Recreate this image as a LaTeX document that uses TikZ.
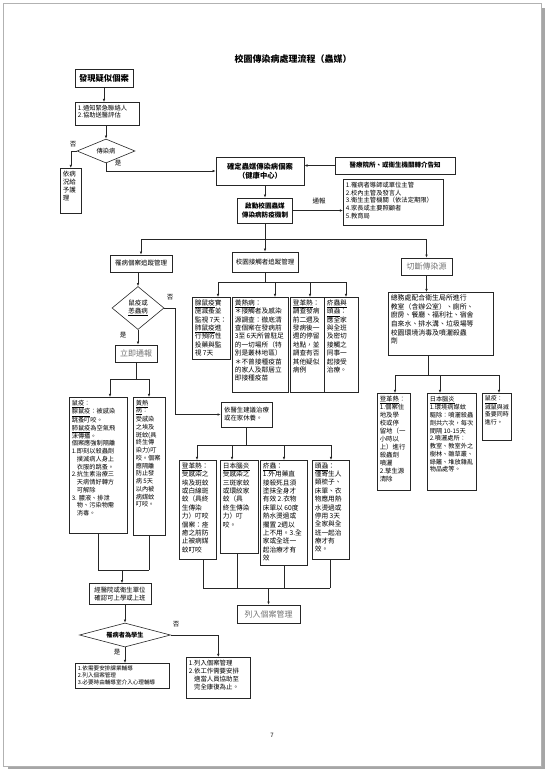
\documentclass[tikz,border=0pt]{standalone}
\usepackage{fontspec}
\setmainfont{Noto Sans CJK TC}
\usetikzlibrary{shapes.geometric,arrows.meta}
\newcommand\fs[1]{\fontsize{#1}{\dimexpr#1pt*5/4\relax}\selectfont}
\newcommand\tb[7]{\node[tbox, anchor=north west] (#1) at (#2,#3) {\parbox[t][\dimexpr#5pt-5pt\relax][t]{\dimexpr#4pt-5pt\relax}{\raggedright\fs{#6}#7}};}
\tikzset{
 bx/.style={draw=black!85, line width=0.6pt, fill=white, inner sep=2pt, align=center},
 tbox/.style={draw=black!85, line width=0.6pt, fill=white, inner sep=2.5pt},
 ln/.style={draw=black!85, line width=0.6pt},
 arr/.style={ln, -{Latex[length=3.2pt,width=2.6pt]}},
 dm/.style={diamond, draw=black!85, line width=0.6pt, fill=white, inner sep=0pt, align=center},
 lbl/.style={font=\fs{6.5}},
 soft/.style={text=black!55, font=\fs{8}},
}
\begin{document}
\begin{tikzpicture}[x=1pt,y=-1pt]
\useasboundingbox (0,0) rectangle (547,772);
\fill[white] (0,0) rectangle (547,772);
% page frame
\fill[black!35] (541,8) rectangle (545,769);
\fill[black!35] (8,766) rectangle (545,769);
\draw[black!30, line width=0.5pt] (3,3) rectangle (541,766);

\node[font=\bfseries\fs{9}] (title) at (293,59) {校園傳染病處理流程（蟲媒）};

% top-left column
\node[bx, minimum width=58, minimum height=18, font=\bfseries\fs{8.3}] (find) at (104,78) {發現疑似個案};
\tb{notify}{75}{102}{64}{23}{6.3}{1.通知緊急聯絡人\\2.協助送醫評估}
\node[dm, minimum width=58, minimum height=24, aspect=2.4, font=\fs{6.3}] (d1) at (106,151) {傳染病};
\tb{care}{60}{168}{21}{45}{6.5}{依病\\況給\\予護\\理}

\node[bx, minimum width=88, minimum height=28, font=\bfseries\fs{7.3}] (confirm) at (260,171) {確定蟲媒傳染病個案\\（健康中心）};
\node[bx, minimum width=120, minimum height=17, font=\bfseries\fs{6.5}] (med) at (395,165.5) {醫療院所、或衛生機關轉介告知};
\node[bx, minimum width=55, minimum height=25, font=\bfseries\fs{6.6}] (start) at (265,210.5) {啟動校園蟲媒\\傳染病防疫機制};
\tb{notif}{343}{179}{100}{46}{6.3}{1.罹病者導師或單位主管\\2.校內主管及發言人\\3.衛生主管機關（依法定期限）\\4.家長或主要照顧者\\5.教育局}

\node[bx, minimum width=62, minimum height=17, font=\fs{6.5}] (track) at (141,263.5) {罹病個案追蹤管理};
\node[bx, minimum width=66, minimum height=20, font=\fs{6.5}] (contact) at (265,262) {校園接觸者追蹤管理};
\node[bx, minimum width=51, minimum height=17, soft] (cut) at (426.5,266.5) {切斷傳染源};

% left branch
\node[dm, minimum width=52, minimum height=43, aspect=1.2, font=\fs{6.5}] (d2) at (138,308) {鼠疫或\\\underline{恙蟲病}};
\node[bx, minimum width=42, minimum height=17, soft] (urgent) at (136,353.5) {立即通報};
\tb{plague}{69}{397}{58}{136}{6.2}{\underline{鼠疫}：\\\underline{腺鼠疫}：被感染\\跳蚤叮咬。\\\underline{肺鼠疫}為空氣飛\\沫傳播。\\個案應強制隔離\\1.即刻以殺蟲劑\\\phantom{1.}撲滅病人身上\\\phantom{1.}衣服的跳蚤。\\2.抗生素治療三\\\phantom{2.}天病情好轉方\\\phantom{2.}可解除\\3. 膿液、排泄\\\phantom{3.}物、污染物需\\\phantom{3.}消毒。}
\tb{yf}{133}{397}{32}{138}{6.2}{\underline{黃熱}\\\underline{病}：\\受感染\\之埃及\\斑蚊(具\\終生傳\\染力)叮\\咬。個案\\應隔離\\防止發\\病 5天\\以內被\\病媒蚊\\叮咬。}
\node[bx, minimum width=62, minimum height=21, font=\fs{6.4}] (cert) at (120,594) {經醫院或衛生單位\\確認可上學或上班};
\node[dm, minimum width=91, minimum height=24, aspect=3.8, font=\bfseries\fs{6.2}] (d3) at (125,635) {罹病者為學生};
\tb{stud}{75}{663}{94}{25}{5.6}{1.依需要安排課業輔導\\2.列入個案管理\\3.必要時由輔導室介入心理輔導}
\tb{work}{186}{657}{64}{41}{6.4}{1.列入個案管理\\2.依工作需要安排\\\phantom{2.}適當人員協助至\\\phantom{2.}完全康復為止。}

% middle branch
\tb{A}{192}{297}{38}{62}{6.7}{\underline{腺鼠疫}實\\施滅蚤並\\監視 7天：\\\underline{肺鼠疫}進\\行預防性\\投藥與監\\視 7天}
\tb{B}{232}{297}{56}{95}{6.7}{\underline{黃熱病}：\\＊接觸者及感染\\源調查：徹底清\\查個案在發病前\\3至 6天所曾駐足\\的一切場所（特\\別是叢林地區）\\＊不曾接種疫苗\\的家人及鄰居立\\即接種疫苗}
\tb{C}{290}{297}{34}{95}{6.7}{\underline{登革熱}：\\調查發病\\前二週及\\發病後一\\週的停留\\地點，並\\調查有否\\其他疑似\\病例}
\tb{D}{324}{297}{34}{95}{6.7}{\underline{疥蟲與}\\\underline{頭蝨}：\\應全家\\與全班\\及密切\\接觸之\\同事一\\起接受\\治療。}
\node[bx, minimum width=51, minimum height=25, align=left, font=\fs{6.4}] (advice) at (246.5,414.5) {依醫生建議治療\\或在家休養。};
\tb{L1}{179}{460}{37}{99}{6.7}{\underline{登革熱}：\\受感染之\\埃及斑蚊\\或白線斑\\蚊（具終\\生傳染\\力）叮咬\\個案：痊\\癒之前防\\止被病媒\\蚊叮咬}
\tb{L2}{220}{460}{38}{93}{6.7}{\underline{日本腦炎}\\受感染之\\三斑家蚊\\或環紋家\\蚊（具\\終生傳染\\力）叮\\咬。}
\tb{L3}{260}{460}{47}{105}{6.7}{\underline{疥蟲}：\\1.外用藥直\\接殺死且須\\塗抹全身才\\有效 2.衣物\\床單以 60度\\熱水燙過或\\擱置 2週以\\上不用。3.全\\家或全班一\\起治療才有\\效}
\tb{L4}{312}{460}{37}{99}{6.7}{\underline{頭蝨}：\\僅寄生人\\類梳子、\\床單、衣\\物應用熱\\水燙過或\\停用 3天\\全家與全\\班一起治\\療才有\\效。}
\node[bx, minimum width=63, minimum height=18, soft] (listcase) at (268.5,614) {列入個案管理};

% right branch
\tb{big}{388}{292}{105}{63}{6.9}{總務處配合衛生局所進行\\教室（含辦公室）、廁所、\\廚房、餐廳、福利社、宿舍\\自來水、排水溝、垃圾場等\\校園環境消毒及噴灑殺蟲\\劑}
\tb{R1}{377}{393}{33}{97}{6.4}{\underline{登革熱}：\\1.個案住\\地及學\\校或停\\留地（一\\小時以\\上）進行\\殺蟲劑\\噴灑\\2.孳生源\\清除}
\tb{R2}{427}{393}{49}{97}{6.2}{\underline{日本腦炎}\\1.環境病媒蚊\\驅除：噴灑殺蟲\\劑共六次，每次\\間隔 10-15天\\2.噴灑處所：\\教室、教室外之\\樹林、雜草叢、\\綠籬、堆放雜亂\\物品處等。}
\tb{R3}{482}{393}{29}{47}{6}{\underline{鼠疫}：\\滅鼠與滅\\蚤要同時\\進行。}

% coordinates
\coordinate (hA) at (265,239);
\coordinate (nb) at (175,308);
\coordinate (sl) at (110,379); \coordinate (sr) at (149,379);
\coordinate (m1) at (122,570);
\coordinate (bA) at (218,282); \coordinate (bB) at (275,282); \coordinate (bC) at (310,282); \coordinate (bD) at (346,282);
\coordinate (cL) at (197,445); \coordinate (c2) at (232,445); \coordinate (c3) at (284,445); \coordinate (cR) at (331,445);
\coordinate (mL) at (203,588); \coordinate (m2) at (237,588); \coordinate (m3) at (284,588); \coordinate (mR) at (330,588);
\coordinate (rT) at (428,375); \coordinate (rL) at (395,375); \coordinate (rM) at (440,375); \coordinate (rR) at (499,375);

% connectors
\draw[arr] (find.south) -- (find.south |- notify.north);
\draw[arr] (d1.north |- notify.south) -- (d1.north);
\draw[arr] (d1.west) -| (care.north);
\draw[arr] (d1.south) |- (confirm.west);
\draw[arr] (med.west) -- (med.west -| confirm.east);
\draw[arr] (start.north |- confirm.south) -- (start.north);
\draw[arr] (start.east) -- (start.east -| notif.west);
\draw[arr] (start.south) -- (contact.north);
\draw[ln] (track.north |- hA) -- (cut.north |- hA);
\draw[arr] (track.north |- hA) -- (track.north);
\draw[arr] (cut.north |- hA) -- (cut.north);

\draw[arr] (d2.north |- track.south) -- (d2.north);
\draw[arr] (d2.east) -- (nb) |- (advice.west);
\draw[arr] (d2.south) -- (d2.south |- urgent.north);
\draw[ln] (urgent.south) -- (urgent.south |- sl);
\draw[ln] (sl) -- (sr);
\draw[arr] (sl) -- (sl |- plague.north);
\draw[arr] (sr) -- (sr |- yf.north);
\draw[ln] (plague.south) |- (yf.south |- m1);
\draw[ln] (yf.south) -- (yf.south |- m1);
\draw[arr] (m1) -- (m1 |- cert.north);
\draw[arr] (d3.north |- cert.south) -- (d3.north);
\draw[arr] (d3.south) -- (d3.south |- stud.north);
\draw[arr] (d3.east) -| (work.north);

\draw[ln] (contact.south) -- (contact.south |- bA);
\draw[ln] (bA) -- (bD);
\draw[arr] (bA) -- (bA |- A.north);
\draw[arr] (bB) -- (bB |- B.north);
\draw[arr] (bC) -- (bC |- C.north);
\draw[arr] (bD) -- (bD |- D.north);

\draw[ln] (advice.south) -- (advice.south |- cL);
\draw[ln] (cL) -- (cR);
\draw[arr] (cL) -- (cL |- L1.north);
\draw[arr] (c2) -- (c2 |- L2.north);
\draw[arr] (c3) -- (c3 |- L3.north);
\draw[arr] (cR) -- (cR |- L4.north);
\draw[ln] (mL |- L1.south) -- (mL);
\draw[ln] (m2 |- L2.south) -- (m2);
\draw[ln] (m3 |- L3.south) -- (m3);
\draw[ln] (mR |- L4.south) -- (mR);
\draw[ln] (mL) -- (mR);
\draw[arr] (listcase.north |- mL) -- (listcase.north);

\draw[arr] (cut.south) -- (cut.south |- big.north);
\draw[ln] (rT |- big.south) -- (rT);
\draw[ln] (rL) -- (rR);
\draw[arr] (rL) -- (rL |- R1.north);
\draw[arr] (rM) -- (rM |- R2.north);
\draw[arr] (rR) -- (rR |- R3.north);

% labels
\node[lbl] (n1) at (73,144) {否};
\node[lbl] (y1) at (118,163) {是};
\node[lbl] (tb1) at (319,201) {通報};
\node[lbl] (n2) at (170,297) {否};
\node[lbl] (y2) at (123,335) {是};
\node[lbl] (n3) at (176,624) {否};
\node[lbl] (y3) at (117,652) {是};
\node[font=\fs{6}] (pg) at (272,735) {7};
\end{tikzpicture}
\end{document}
